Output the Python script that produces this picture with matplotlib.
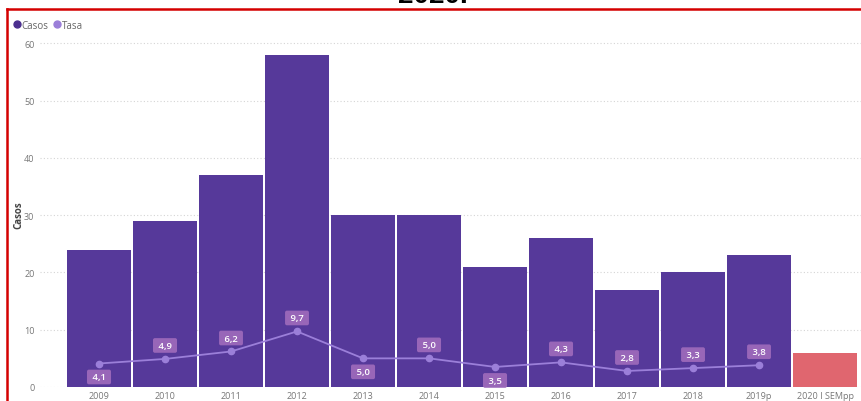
import matplotlib
matplotlib.use("Agg")
import matplotlib.pyplot as plt
from matplotlib.lines import Line2D
import numpy as np

categories = ["2009", "2010", "2011", "2012", "2013", "2014", "2015", "2016",
              "2017", "2018", "2019p", "2020 I SEMpp"]
casos = [24, 29, 37, 58, 30, 30, 21, 26, 17, 20, 23, 6]
tasa = [4.1, 4.9, 6.2, 9.7, 5.0, 5.0, 3.5, 4.3, 2.8, 3.3, 3.8]
tasa_labels = ["4,1", "4,9", "6,2", "9,7", "5,0", "5,0", "3,5", "4,3", "2,8", "3,3", "3,8"]
label_side = [-1, 1, 1, 1, -1, 1, -1, 1, 1, 1, 1]
yticks = [0, 10, 20, 30, 40, 50, 60]

BAR = "#56399a"
BAR_LAST = "#e0666f"
LINE = "#9b7fd9"
LBL_BG = "#9866b8"

plt.rcParams['font.family'] = ['Open Sans', 'DejaVu Sans']

fig = plt.figure(figsize=(8.61, 4.02), dpi=100)
ax = fig.add_axes([40/861, 14/402, 821/861, 346/402])

x = np.arange(len(categories))
colors = [BAR] * (len(categories) - 1) + [BAR_LAST]
ax.bar(x, casos, width=0.97, color=colors, zorder=2)

xt = np.arange(len(tasa))
ax.plot(xt, tasa, color=LINE, lw=1.3, marker='o', ms=4.5, zorder=3)
for xi, v, lab, s in zip(xt, tasa, tasa_labels, label_side):
    ax.annotate(" " + lab + " ", (xi, v), xytext=(0, 9.7 * s), textcoords='offset points',
                ha='center', va='center', color='white', fontsize=6.8, fontweight='semibold',
                bbox=dict(boxstyle='round,pad=0.3,rounding_size=0.2', fc=LBL_BG, ec='none'),
                zorder=4)

ax.set_xlim(-0.894, 11.545)
ax.set_ylim(0, 60.4)
ax.set_yticks(yticks)
ax.set_xticks(x)
ax.set_xticklabels(categories)
ax.tick_params(axis='both', length=0, labelsize=6.5, colors='#777777')
ax.tick_params(axis='y', pad=4)
ax.tick_params(axis='x', pad=3)
for sp in ax.spines.values():
    sp.set_visible(False)
ax.grid(axis='y', linestyle=(0, (1, 2)), color='#d5d5d5', lw=0.8, zorder=0)
ax.set_axisbelow(True)
ax.set_ylabel("Casos", fontsize=7, color='#444444', fontweight='bold')
ax.yaxis.set_label_coords(-0.019, 0.5)

handles = [Line2D([], [], marker='o', ls='none', color='#4b2f8f', ms=5),
           Line2D([], [], marker='o', ls='none', color=LINE, ms=5)]
fig.legend(handles, ["Casos", "Tasa"], loc='upper left', bbox_to_anchor=(8/861, 1 - 17/402),
           ncol=2, frameon=False, fontsize=7, handletextpad=0.0, columnspacing=0.4,
           borderaxespad=0, labelcolor='#666666', handlelength=1.0)

# red frame
fig.add_artist(Line2D([6.5/861, 6.5/861], [0, 1 - 10/402], color='#d40000', lw=1.8,
                      transform=fig.transFigure))
fig.add_artist(Line2D([6.5/861, 1], [1 - 10/402, 1 - 10/402], color='#d40000', lw=1.8,
                      transform=fig.transFigure))

fig.text(433/861, 1 - 3/402, "2020.", ha='center', va='baseline', fontsize=20,
         fontweight='bold', family='Liberation Sans', color='black')

fig.savefig("out.png", dpi=100)
